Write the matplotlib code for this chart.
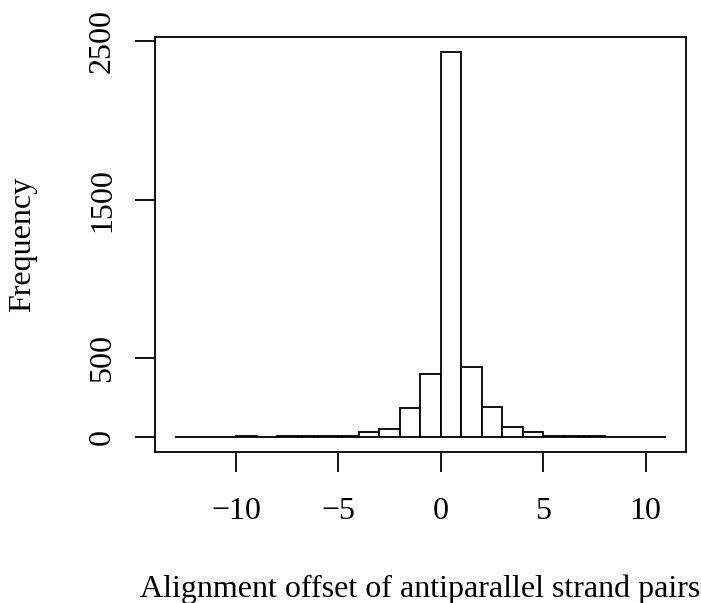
import matplotlib
matplotlib.use("Agg")
import matplotlib.pyplot as plt
import numpy as np

# Histogram of alignment offsets (unit-width bins from -13 to 11)
bin_edges = list(range(-13, 12))
counts = [2, 1, 1, 3, 2, 5, 5, 8, 5, 28, 51, 180, 395, 2433,
          443, 190, 63, 28, 3, 8, 5, 2, 1, 1]

x_ticks = [-10, -5, 0, 5, 10]
x_tick_labels = ["\u221210", "\u22125", "0", "5", "10"]
y_ticks = [0, 500, 1500, 2500]
y_tick_labels = ["0", "500", "1500", "2500"]

plt.rcParams["font.family"] = ["Liberation Serif", "DejaVu Serif"]
FS = 23

W, H = 701, 603
fig = plt.figure(figsize=(W / 100, H / 100), dpi=100)
ax = fig.add_axes([155 / W, 1 - 452.3 / H, (685.7 - 155) / W, (452.3 - 36.7) / H])

edges = np.array(bin_edges, dtype=float)
ax.bar(edges[:-1], counts, width=np.diff(edges), align="edge",
       facecolor="white", edgecolor="black", linewidth=1.3)

pad_x = 0.04 * (edges[-1] - edges[0])
ax.set_xlim(edges[0] - pad_x, edges[-1] + pad_x)
pad_y = 0.04 * max(counts)
ax.set_ylim(-pad_y, max(counts) + pad_y)

for s in ax.spines.values():
    s.set_linewidth(1.3)

ax.set_xticks(x_ticks)
ax.set_xticklabels(x_tick_labels)
ax.set_yticks(y_ticks)
ax.set_yticklabels(y_tick_labels, rotation=90, va="center")
ax.tick_params(direction="out", length=14.5, width=1.3, labelsize=FS)
ax.tick_params(axis="x", pad=18)
ax.tick_params(axis="y", pad=13)

fig.text(23 / W, 1 - 244.5 / H, "Frequency", rotation=90, fontsize=FS,
         ha="center", va="center")
fig.text(420 / W, 1 - 597 / H, "Alignment offset of antiparallel strand pairs",
         fontsize=FS, ha="center", va="baseline")

fig.savefig("out.png", dpi=100)
